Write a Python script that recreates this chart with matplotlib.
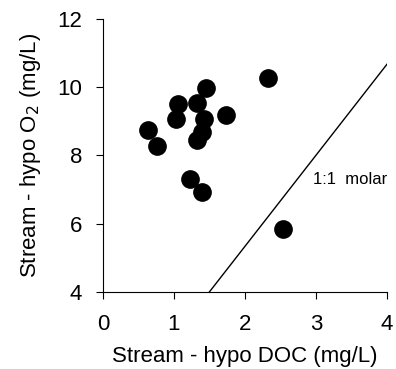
import matplotlib
matplotlib.use("Agg")
import matplotlib.pyplot as plt
import numpy as np

plt.rcParams['font.family'] = ['Liberation Sans', 'DejaVu Sans']

# stream - hypo DOC (mg/L) vs stream - hypo O2 (mg/L)
doc = [2.32, 1.45, 1.06, 1.33, 1.03, 1.42, 1.73, 0.63, 1.40, 1.33, 0.76, 1.23, 1.39, 2.53]
o2 = [10.27, 9.97, 9.50, 9.53, 9.06, 9.06, 9.18, 8.75, 8.67, 8.45, 8.28, 7.31, 6.94, 5.85]

# 1:1 molar line, O2 = (32/12) * C
line_x = np.array([0, 4.0])
line_y = line_x * 32.0 / 12.0

fig = plt.figure(figsize=(3.96, 3.69), dpi=100)
ax = fig.add_axes([0.26, 0.209, 0.717, 0.74])

ax.plot(line_x, line_y, color='black', lw=1.0)
ax.scatter(doc, o2, s=155, color='black', zorder=3)
ax.text(2.96, 7.28, "1:1  molar", fontsize=12, va='center', ha='left', clip_on=False)

ax.set_xlim(0, 4)
ax.set_ylim(4, 12)
ax.set_xticks([0, 1, 2, 3, 4])
ax.set_yticks([4, 6, 8, 10, 12])
ax.spines['top'].set_visible(False)
ax.spines['right'].set_visible(False)
ax.tick_params(direction='out', length=5, labelsize=16)
ax.tick_params(axis='x', pad=11)
ax.tick_params(axis='y', pad=10)
ax.set_xlabel("Stream - hypo DOC (mg/L)", fontsize=16, labelpad=8)
ax.set_ylabel("Stream - hypo O$_2$ (mg/L)", fontsize=16, labelpad=10)

fig.savefig("out.png", dpi=100)
